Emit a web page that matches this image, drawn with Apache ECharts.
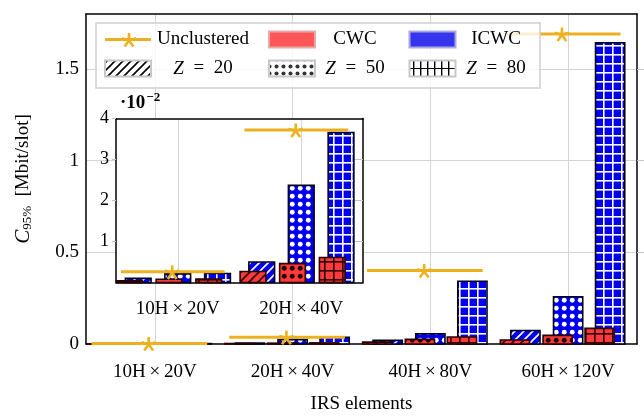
<!DOCTYPE html>
<html><head><meta charset="utf-8">
<script src="https://cdn.jsdelivr.net/npm/echarts@6/dist/echarts.min.js"></script>
<style>html,body{margin:0;padding:0;background:#fff}#c{width:644px;height:419px}</style>
</head><body><div id="c"></div>
<script>
// ---------------- data ----------------
const categories = ['10H×20V', '20H×40V', '40H×80V', '60H×120V'];
const unclustered = [0.0026, 0.0372, 0.401, 1.691];
const cwcZ20  = [0.0004, 0.0027, 0.010, 0.022];
const icwcZ20 = [0.0010, 0.0050, 0.020, 0.074];
const cwcZ50  = [0.0008, 0.0046, 0.025, 0.047];
const icwcZ50 = [0.0021, 0.0237, 0.056, 0.258];
const cwcZ80  = [0.00085, 0.0061, 0.038, 0.085];
const icwcZ80 = [0.0022, 0.0366, 0.342, 1.643];
const mainYTicks = [0, 0.5, 1, 1.5];
const insetYTicks = [0.01, 0.02, 0.03, 0.04];
const insetCategoryCount = 2;
const legendLabels = ['Unclustered', 'CWC', 'ICWC', '{i|Z}\u2002=\u200220', '{i|Z}\u2002=\u200250', '{i|Z}\u2002=\u200280'];

// ---------------- styles ----------------
const FONT = 'Liberation Serif';
const GOLD = '#edb120';
const BLUE = '#0000ee';
const RED = '#ff3a3a';
const GRIDC = '#d4d4d4';
const TICKC = '#c4c4c4';

function makePattern(kind, bg, fg, size) {
  const c = document.createElement('canvas');
  c.width = size; c.height = size;
  const g = c.getContext('2d');
  g.fillStyle = bg; g.fillRect(0, 0, size, size);
  g.strokeStyle = fg; g.fillStyle = fg;
  if (kind === 'hatch') {
    g.lineWidth = 1.6;
    g.beginPath();
    g.moveTo(-1, size + 1); g.lineTo(size + 1, -1);
    g.moveTo(-2, 2); g.lineTo(2, -2);
    g.moveTo(size - 2, size + 2); g.lineTo(size + 2, size - 2);
    g.stroke();
  } else if (kind === 'dots') {
    g.beginPath(); g.arc(size / 2, size / 2, size * 0.29, 0, Math.PI * 2); g.fill();
  } else if (kind === 'grid') {
    g.fillRect(0, 0, size, 1.6); g.fillRect(0, 0, 1.6, size);
  } else if (kind === 'vgrid') {
    g.fillRect(0, 0, 1.4, size);
  }
  return { image: c, repeat: 'repeat' };
}

const pat = {
  blue: { hatch: makePattern('hatch', BLUE, '#fff', 9), dots: makePattern('dots', BLUE, '#fff', 8.5), grid: makePattern('grid', BLUE, '#fff', 9) },
  red:  { hatch: makePattern('hatch', RED, '#2a0000', 9), dots: makePattern('dots', RED, '#1a0000', 8.5), grid: makePattern('grid', RED, '#2a0000', 9) }
};

const barSpecs = [
  { name: 'ICWC Z=20', data: icwcZ20, slot: 0, red: false, kind: 'hatch' },
  { name: 'ICWC Z=50', data: icwcZ50, slot: 1, red: false, kind: 'dots' },
  { name: 'ICWC Z=80', data: icwcZ80, slot: 2, red: false, kind: 'grid' },
  { name: 'CWC Z=20',  data: cwcZ20,  slot: 0, red: true,  kind: 'hatch' },
  { name: 'CWC Z=50',  data: cwcZ50,  slot: 1, red: true,  kind: 'dots' },
  { name: 'CWC Z=80',  data: cwcZ80,  slot: 2, red: true,  kind: 'grid' }
];

const layouts = [
  { xAxisIndex: 0, yAxisIndex: 0, count: categories.length, offsets: [-0.31, 0, 0.305], shift: -0.076, width: 0.212, z: 2 },
  { xAxisIndex: 2, yAxisIndex: 2, count: insetCategoryCount, offsets: [-0.32, 0, 0.322], shift: -0.071, width: 0.208, z: 6 }
];

const series = [];
layouts.forEach(L => {
  barSpecs.forEach(spec => {
    series.push({
      type: 'custom', name: spec.name,
      xAxisIndex: L.xAxisIndex, yAxisIndex: L.yAxisIndex, z: L.z,
      encode: { x: 0, y: 1 },
      data: spec.data.slice(0, L.count).map((v, i) => [i, v]),
      renderItem: (params, api) => {
        const i = api.value(0), v = api.value(1);
        const band = api.size([1, 0])[0];
        const p = api.coord([i, v]), b = api.coord([i, 0]);
        const w = band * L.width;
        const cx = p[0] + band * (L.offsets[spec.slot] + (spec.red ? L.shift : 0));
        return {
          type: 'rect',
          shape: { x: cx - w / 2, y: p[1], width: w, height: b[1] - p[1] },
          style: { fill: pat[spec.red ? 'red' : 'blue'][spec.kind], stroke: spec.red ? '#2a0000' : '#000018', lineWidth: 1.6 }
        };
      }
    });
  });
  series.push({
    type: 'custom', name: 'Unclustered',
    xAxisIndex: L.xAxisIndex, yAxisIndex: L.yAxisIndex, z: L.z + 1,
    encode: { x: 0, y: 1 },
    data: unclustered.slice(0, L.count).map((v, i) => [i, v]),
    renderItem: (params, api) => {
      const i = api.value(0), v = api.value(1);
      const band = api.size([1, 0])[0];
      const p = api.coord([i, v]);
      const sx = p[0] - band * 0.045, sy = p[1] + 1;
      const children = [{ type: 'line', shape: { x1: p[0] - band * 0.46, y1: p[1], x2: p[0] + band * 0.38, y2: p[1] }, style: { stroke: GOLD, lineWidth: 3 } }];
      const r = 7.5;
      for (let k = 0; k < 5; k++) {
        const a = -Math.PI / 2 + k * 2 * Math.PI / 5;
        children.push({ type: 'line', shape: { x1: sx, y1: sy, x2: sx + r * Math.cos(a), y2: sy + r * Math.sin(a) }, style: { stroke: GOLD, lineWidth: 2.6 } });
      }
      return { type: 'group', children };
    }
  });
});

// ---------------- legend (graphic) ----------------
function star(cx, cy, r) {
  const out = [];
  for (let k = 0; k < 5; k++) {
    const a = -Math.PI / 2 + k * 2 * Math.PI / 5;
    out.push({ type: 'line', z: 101, shape: { x1: cx, y1: cy, x2: cx + r * Math.cos(a), y2: cy + r * Math.sin(a) }, style: { stroke: GOLD, lineWidth: 2.6 } });
  }
  return out;
}
const legPat = {
  hatch: makePattern('hatch', '#fff', '#000', 8),
  dots: makePattern('dots', '#fff', '#333', 7),
  grid: makePattern('vgrid', '#fff', '#000', 7.5)
};
const rowY = [39.5, 68.5];
const iconX = [105, 269, 409.5];
const textX = [203, 355, 496];
const iconW = 46, iconH = 16;
const textStyleBase = { font: '19px "' + FONT + '"', fill: '#000', align: 'center', verticalAlign: 'middle',
  rich: { i: { fontStyle: 'italic', fontFamily: FONT, fontSize: 19 } } };
const legendEls = [
  { type: 'rect', z: 100, shape: { x: 96, y: 23, width: 444, height: 65 }, style: { fill: 'rgba(255,255,255,0.82)', stroke: '#cfcfcf', lineWidth: 1.5 } },
  { type: 'line', z: 101, shape: { x1: iconX[0], y1: rowY[0], x2: iconX[0] + iconW, y2: rowY[0] }, style: { stroke: GOLD, lineWidth: 3 } },
  ...star(iconX[0] + 24, rowY[0] + 1, 7.5),
  { type: 'rect', z: 101, shape: { x: iconX[1], y: rowY[0] - 8, width: iconW, height: iconH }, style: { fill: '#ff5757', stroke: '#e3a9a9', lineWidth: 2 } },
  { type: 'rect', z: 101, shape: { x: iconX[2], y: rowY[0] - 8, width: iconW, height: iconH }, style: { fill: '#3535ee', stroke: '#a9a9e6', lineWidth: 2 } },
  { type: 'rect', z: 101, shape: { x: iconX[0], y: rowY[1] - 8, width: iconW, height: iconH }, style: { fill: legPat.hatch, stroke: '#c8c8c8', lineWidth: 2 } },
  { type: 'rect', z: 101, shape: { x: iconX[1], y: rowY[1] - 8, width: iconW, height: iconH }, style: { fill: legPat.dots, stroke: '#c8c8c8', lineWidth: 2 } },
  { type: 'rect', z: 101, shape: { x: iconX[2], y: rowY[1] - 8, width: iconW, height: iconH }, style: { fill: legPat.grid, stroke: '#c8c8c8', lineWidth: 2 } },
  { type: 'line', z: 102, shape: { x1: iconX[2] + 1, y1: rowY[1], x2: iconX[2] + iconW - 1, y2: rowY[1] }, style: { stroke: '#000', lineWidth: 1.2 } }
];
legendLabels.forEach((t, k) => {
  legendEls.push({ type: 'text', z: 102, style: Object.assign({}, textStyleBase, { text: t, x: textX[k % 3], y: rowY[Math.floor(k / 3)] }) });
});

// ---------------- axes ----------------
const catLabel = v => v.replace('×', '\u2009×\u2009');
const labelStyle = { fontFamily: FONT, fontSize: 19, color: '#000' };

const option = {
  animation: false,
  backgroundColor: '#fff',
  grid: [
    { left: 86, top: 14, width: 551, height: 334.5, containLabel: false },
    { left: 116, top: 118.5, width: 247, height: 164, show: true, backgroundColor: '#fff', borderWidth: 0, z: 3 }
  ],
  xAxis: [
    { type: 'category', gridIndex: 0, data: categories, boundaryGap: true,
      axisLine: { onZero: false, lineStyle: { color: '#000', width: 1.5 } },
      axisTick: { alignWithLabel: true, length: 10, lineStyle: { color: TICKC } },
      splitLine: { show: true, alignWithLabel: true, lineStyle: { color: GRIDC } },
      axisLabel: Object.assign({ margin: 19, formatter: catLabel }, labelStyle),
      name: 'IRS elements', nameLocation: 'middle', nameGap: 51, nameTextStyle: labelStyle },
    { type: 'category', gridIndex: 0, position: 'top', data: categories, boundaryGap: true,
      axisLine: { onZero: false, lineStyle: { color: '#000', width: 1.5 } },
      axisTick: { alignWithLabel: true, length: 14, lineStyle: { color: TICKC } },
      axisLabel: { show: false }, splitLine: { show: false } },
    { type: 'category', gridIndex: 1, data: categories.slice(0, insetCategoryCount), boundaryGap: true, z: 4,
      axisLine: { onZero: false, lineStyle: { color: '#000', width: 1.5 } },
      axisTick: { alignWithLabel: true, length: 10, lineStyle: { color: TICKC } },
      splitLine: { show: true, alignWithLabel: true, lineStyle: { color: GRIDC } },
      axisLabel: Object.assign({ margin: 17, formatter: catLabel }, labelStyle) },
    { type: 'category', gridIndex: 1, position: 'top', data: categories.slice(0, insetCategoryCount), boundaryGap: true, z: 4,
      axisLine: { onZero: false, lineStyle: { color: '#000', width: 1.5 } },
      axisTick: { alignWithLabel: true, length: 15, lineStyle: { color: TICKC } },
      axisLabel: { show: false }, splitLine: { show: false } }
  ],
  yAxis: [
    { type: 'value', gridIndex: 0, min: 0, max: 1.8, interval: 0.5,
      axisLine: { show: true, onZero: false, lineStyle: { color: '#000', width: 1.5 } },
      axisTick: { show: false },
      splitLine: { show: true, showMinLine: false, showMaxLine: false, lineStyle: { color: GRIDC } },
      axisLabel: Object.assign({ margin: 7, customValues: mainYTicks, formatter: v => String(v) }, labelStyle),
      name: '{i|C}{s|95%}  [Mbit/slot]', nameLocation: 'middle', nameGap: 52, nameRotate: 90,
      nameTextStyle: Object.assign({ rich: {
        i: { fontStyle: 'italic', fontFamily: FONT, fontSize: 21, color: '#000' },
        s: { fontFamily: FONT, fontSize: 13, color: '#000', padding: [9, 0, 0, 0] } } }, labelStyle) },
    { type: 'value', gridIndex: 0, position: 'right', min: 0, max: 1.8, interval: 0.5,
      axisLine: { show: true, onZero: false, lineStyle: { color: '#000', width: 1.5 } },
      axisTick: { show: true, length: 7, customValues: mainYTicks.slice(1), lineStyle: { color: TICKC } },
      splitLine: { show: false }, axisLabel: { show: false } },
    { type: 'value', gridIndex: 1, min: 0, max: 0.04, interval: 0.01, z: 4,
      axisLine: { show: true, onZero: false, lineStyle: { color: '#000', width: 1.5 } },
      axisTick: { show: true, length: 4, customValues: insetYTicks, lineStyle: { color: TICKC } },
      splitLine: { show: false },
      axisLabel: Object.assign({ margin: 7, customValues: insetYTicks, formatter: v => String(Math.round(v * 100)) }, labelStyle, { fontSize: 18 }),
      name: '{a|·10}{b|−2}', nameLocation: 'end', nameGap: 4,
      nameTextStyle: { align: 'left', padding: [0, 0, 0, 4], rich: {
        a: { fontFamily: FONT, fontSize: 19, fontWeight: 'bold', color: '#000' },
        b: { fontFamily: FONT, fontSize: 13, fontWeight: 'bold', color: '#000', padding: [0, 0, 10, 1] } } } },
    { type: 'value', gridIndex: 1, position: 'right', min: 0, max: 0.04, interval: 0.01, z: 4,
      axisLine: { show: true, onZero: false, lineStyle: { color: '#000', width: 1.5 } },
      axisTick: { show: true, inside: true, length: 9, customValues: insetYTicks.slice(0, 3), lineStyle: { color: TICKC } },
      splitLine: { show: false }, axisLabel: { show: false } }
  ],
  series: series,
  graphic: { elements: legendEls }
};

const chart = echarts.init(document.getElementById('c'), null, { renderer: 'canvas' });
chart.setOption(option);
</script>
</body></html>
